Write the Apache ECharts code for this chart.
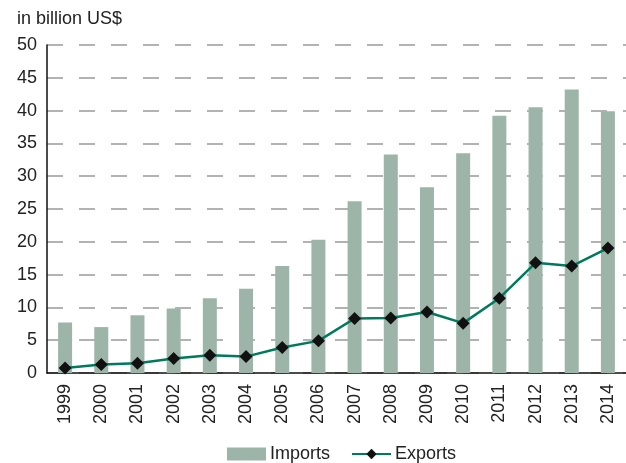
<!DOCTYPE html>
<html>
<head>
<meta charset="utf-8">
<script src="https://cdn.jsdelivr.net/npm/echarts@6/dist/echarts.min.js"></script>
<style>
  html, body { margin: 0; padding: 0; background: #fff; }
  #chart { width: 626px; height: 463px; }
</style>
</head>
<body>
<div id="chart"></div>
<script>
const years = ['1999', '2000', '2001', '2002', '2003', '2004', '2005', '2006',
  '2007', '2008', '2009', '2010', '2011', '2012', '2013', '2014']
const imports = [7.7, 7.0, 8.8, 9.85, 11.4, 12.85, 16.3, 20.3,
  26.2, 33.3, 28.3, 33.5, 39.2, 40.5, 43.2, 39.9]
const exports = [0.75, 1.3, 1.5, 2.2, 2.7, 2.5, 3.9, 4.9,
  8.3, 8.4, 9.3, 7.6, 11.4, 16.8, 16.3, 19.05]

const font = 'Liberation Sans, Arial, sans-serif'
const textColor = '#222'

const chart = echarts.init(document.getElementById('chart'))

chart.setOption({
  animation: false,
  backgroundColor: '#fff',
  textStyle: { fontFamily: font },
  title: {
    text: 'in billion US$',
    left: 12,
    top: 5,
    textStyle: { fontSize: 18, fontWeight: 'normal', color: textColor, fontFamily: font },
  },
  legend: {
    bottom: -5,
    left: 222,
    itemWidth: 39,
    itemHeight: 13,
    itemGap: 21,
    textStyle: { fontSize: 18, color: textColor, fontFamily: font, padding: [0, 0, 0, -1] },
    data: [
      { name: 'Imports', icon: 'rect' },
      { name: 'Exports' },
    ],
  },
  grid: { left: 47, right: 0, top: 45, bottom: 90, containLabel: false },
  xAxis: {
    type: 'category',
    data: years,
    boundaryGap: true,
    axisLine: { lineStyle: { color: '#111', width: 1.5 } },
    axisTick: { show: false },
    axisLabel: { rotate: 90, fontSize: 18, color: textColor, margin: 11, fontFamily: font },
  },
  yAxis: {
    type: 'value',
    min: 0,
    max: 50,
    interval: 5,
    axisLine: { show: true, lineStyle: { color: '#111', width: 1.5 } },
    axisTick: { show: false },
    axisLabel: { fontSize: 18, color: textColor, margin: 10, fontFamily: font },
    splitLine: { lineStyle: { color: '#999', width: 1.5, type: [16, 16] } },
  },
  series: [
    {
      name: 'Imports',
      type: 'bar',
      data: imports,
      barWidth: 14,
      itemStyle: { color: '#9db5a8' },
    },
    {
      name: 'Exports',
      type: 'line',
      data: exports,
      symbol: 'diamond',
      symbolSize: 13,
      itemStyle: { color: '#111' },
      lineStyle: { color: '#007a5c', width: 2.5 },
      z: 5,
    },
  ],
})
</script>
</body>
</html>
